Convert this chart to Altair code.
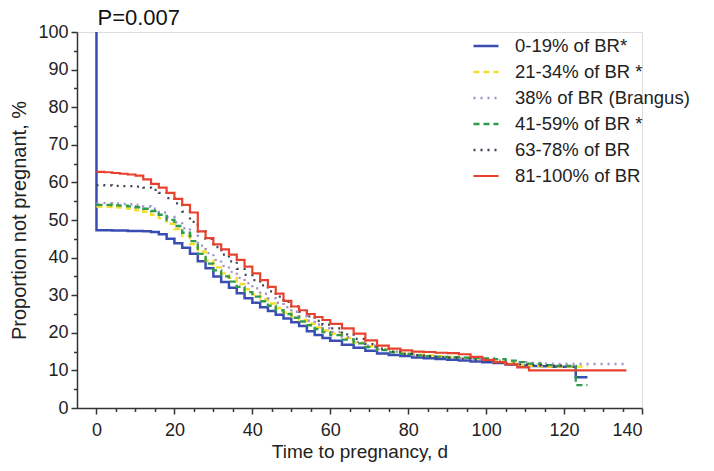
import altair as alt
import pandas as pd

# time grid (days)
days = [0, 2, 4, 6, 8, 10, 12, 14, 16, 18, 20, 22, 24, 26, 28, 30, 32, 34, 36, 38, 40,
        42, 44, 46, 48, 50, 52, 54, 56, 58, 60,
        63, 66, 69, 72, 75, 78, 81, 84, 87, 90, 93, 96, 99, 102, 105, 108, 111, 114, 117, 120, 123, 126,
        130, 136]

blue_start = 100.0
blue_vals = [47.3, 47.3, 47.2, 47.2, 47.1, 47.1, 47.0, 46.8, 46.2, 45.0, 43.8, 42.6, 41.0, 39.0, 37.2, 35.0,
             33.5, 32.0, 30.5, 29.2, 28.0, 26.8, 25.8, 24.8, 23.8, 22.8, 21.8, 20.4, 19.4, 18.6, 17.9,
             16.8, 16.0, 15.2, 14.5, 14.1, 13.8, 13.4, 13.2, 13.0, 12.8, 12.6, 12.4, 12.2, 12.0, 11.6, 11.3,
             11.2, 11.1, 11.0, 11.0, 8.2, 8.2, None, None]
yellow_vals = [53.5, 53.5, 53.4, 53.3, 53.0, 52.6, 52.2, 51.4, 50.5, 49.0, 47.6, 45.8, 43.6, 41.6, 39.2, 37.4,
               35.8, 34.6, 33.0, 31.6, 30.2, 29.0, 27.8, 26.6, 25.4, 24.4, 23.4, 22.4, 21.4, 20.6, 19.8,
               18.6, 17.4, 16.4, 15.6, 15.0, 14.6, 14.2, 14.0, 13.8, 13.6, 13.4, 13.2, 12.8, 12.4, 12.0, 11.4,
               11.2, 11.0, 11.0, 11.0, 11.0, 11.0, None, None]
purple_vals = [54.5, 54.5, 54.4, 54.3, 54.2, 54.0, 53.6, 53.0, 52.0, 50.8, 49.4, 47.8, 45.8, 43.2, 41.2, 39.4,
               37.8, 36.2, 34.6, 33.2, 31.8, 30.4, 29.2, 28.0, 26.8, 25.6, 24.4, 23.2, 22.2, 21.2, 20.2,
               18.8, 17.6, 16.6, 15.6, 15.0, 14.4, 14.0, 13.8, 13.6, 13.4, 13.2, 13.0, 12.8, 12.6, 12.4, 12.2,
               12.0, 11.8, 11.7, 11.7, 11.7, 11.7, 11.7, 11.7]
green_vals = [54.0, 54.0, 53.9, 53.8, 53.6, 53.4, 53.0, 52.4, 51.4, 50.0, 48.4, 46.6, 44.4, 41.0, 38.4, 36.6,
              35.0, 33.6, 32.2, 30.8, 29.6, 28.4, 27.2, 26.0, 25.0, 24.0, 23.0, 22.0, 21.0, 20.2, 19.4,
              18.2, 17.2, 16.2, 15.4, 14.8, 14.4, 14.0, 13.8, 13.6, 13.5, 13.4, 13.3, 13.2, 13.0, 12.6, 12.2,
              11.8, 11.4, 11.2, 11.2, 6.1, 6.1, None, None]
gray_vals = [59.3, 59.2, 59.1, 59.0, 59.0, 58.9, 58.6, 58.0, 57.2, 55.8, 54.4, 52.2, 49.5, 47.0, 45.0, 42.8,
             40.8, 39.0, 37.0, 35.4, 34.0, 32.6, 31.0, 29.6, 28.2, 27.0, 25.6, 24.4, 23.2, 22.2, 21.2,
             19.6, 18.4, 17.0, 15.8, 15.0, 14.4, 14.0, 13.7, 13.5, 13.3, 13.1, 12.8, 12.4, 12.0, 11.8, 11.6,
             11.4, 11.3, 11.3, 11.3, None, None, None, None]
red_vals = [62.8, 62.7, 62.5, 62.3, 62.1, 61.8, 60.8, 59.6, 58.6, 57.2, 55.6, 54.0, 52.0, 47.0, 45.2, 43.5,
            42.2, 40.8, 39.4, 37.6, 35.8, 34.0, 32.2, 30.4, 28.5, 27.0, 26.0, 25.0, 24.2, 23.4, 22.4,
            21.2, 19.8, 18.0, 16.6, 15.8, 15.3, 15.0, 14.9, 14.7, 14.6, 14.3, 13.6, 12.8, 12.2, 11.6, 10.8,
            10.0, 10.0, 10.0, 10.0, 10.0, 10.0, 10.0, 10.0]

series_names = ["0-19% of BR*", "21-34% of BR *", " 38% of BR (Brangus)", "41-59% of BR *",
                "63-78% of BR", "81-100% of BR"]
series_vals = [blue_vals, yellow_vals, purple_vals, green_vals, gray_vals, red_vals]
colors = ["#3a4db3", "#f3dd2c", "#a08fca", "#2f9a4b", "#3f4453", "#e8412e"]
dashes = [[1, 0], [6, 4], [2, 5], [6, 4], [2, 5], [1, 0]]
widths = [2.5, 2.2, 2.2, 2.2, 2.2, 2.5]

x_major = [0, 20, 40, 60, 80, 100, 120, 140]
x_minor = [5, 10, 15, 25, 30, 35, 45, 50, 55, 65, 70, 75, 85, 90, 95, 105, 110, 115, 125, 130, 135]
y_major = [0, 10, 20, 30, 40, 50, 60, 70, 80, 90, 100]
y_minor = [5, 15, 25, 35, 45, 55, 65, 75, 85, 95]
p_text = "P=0.007"

rows = []
rows.append({"series": series_names[0], "day": 0, "value": blue_start, "ord": -1})
for name, vals in zip(series_names, series_vals):
    for i, (d, v) in enumerate(zip(days, vals)):
        if v is not None:
            rows.append({"series": name, "day": d, "value": v, "ord": i})
df = pd.DataFrame(rows)

FONT = "Liberation Sans"
xscale = alt.Scale(domain=[-5, 140], nice=False, zero=False)
yscale = alt.Scale(domain=[0, 100], nice=False, zero=False)

leg = dict(orient="none", legendX=395, legendY=0, title=None, symbolType="stroke",
           symbolSize=625, symbolStrokeWidth=2.5, labelFont=FONT, labelFontSize=18.5,
           labelColor="#222222", labelOffset=15, rowPadding=2, labelLimit=300)

lines = alt.Chart(df).mark_line(interpolate="step-after").encode(
    x=alt.X("day:Q", scale=xscale,
            axis=alt.Axis(orient="bottom", values=x_major, tickSize=6, tickWidth=1.5, tickColor="#333333",
                          domainColor="#333333", domainWidth=1.5, labelFont=FONT, labelFontSize=18,
                          labelColor="#222222", labelPadding=7, grid=False, format="d",
                          title="Time to pregnancy, d", titleFont=FONT, titleFontSize=19,
                          titleFontWeight="normal", titleColor="#222222", titlePadding=3)),
    y=alt.Y("value:Q", scale=yscale,
            axis=alt.Axis(orient="left", values=y_major, tickSize=6, tickWidth=1.5, tickColor="#333333",
                          domainColor="#333333", domainWidth=1.5, labelFont=FONT, labelFontSize=18,
                          labelColor="#222222", labelPadding=3, grid=False, format="d",
                          title="Proportion not pregnant, %", titleFont=FONT, titleFontSize=20,
                          titleFontWeight="normal", titleColor="#222222", titlePadding=8)),
    color=alt.Color("series:N", scale=alt.Scale(domain=series_names, range=colors), legend=alt.Legend(**leg)),
    strokeDash=alt.StrokeDash("series:N", scale=alt.Scale(domain=series_names, range=dashes),
                              legend=alt.Legend(**leg)),
    strokeWidth=alt.StrokeWidth("series:N", scale=alt.Scale(domain=series_names, range=widths), legend=None),
    order="ord:Q",
)

minor = alt.Chart(df).mark_point(opacity=0).encode(
    x=alt.X("day:Q", scale=xscale,
            axis=alt.Axis(orient="bottom", values=x_minor, tickSize=3.5, tickWidth=1.5, tickColor="#333333",
                          domain=False, labels=False, grid=False, title=None)),
    y=alt.Y("value:Q", scale=yscale,
            axis=alt.Axis(orient="left", values=y_minor, tickSize=3.5, tickWidth=1.5, tickColor="#333333",
                          domain=False, labels=False, grid=False, title=None)),
)

ptext = alt.Chart(pd.DataFrame({"day": [0], "value": [100], "t": [p_text]})).mark_text(
    align="left", baseline="alphabetic", font=FONT, fontSize=22, color="#111111", dx=1, dy=-7
).encode(x=alt.X("day:Q", scale=xscale, axis=None), y=alt.Y("value:Q", scale=yscale, axis=None), text="t:N")

chart = alt.layer(minor, lines, ptext).resolve_axis(x="independent", y="independent").properties(
    width=565, height=376,
    autosize=alt.AutoSizeParams(type="none"),
    padding={"left": 69, "top": 24, "right": 64, "bottom": 55},
).configure_view(stroke=None).configure(background="white")

chart.save("out.html", embed_options={"renderer": "svg", "actions": False})
